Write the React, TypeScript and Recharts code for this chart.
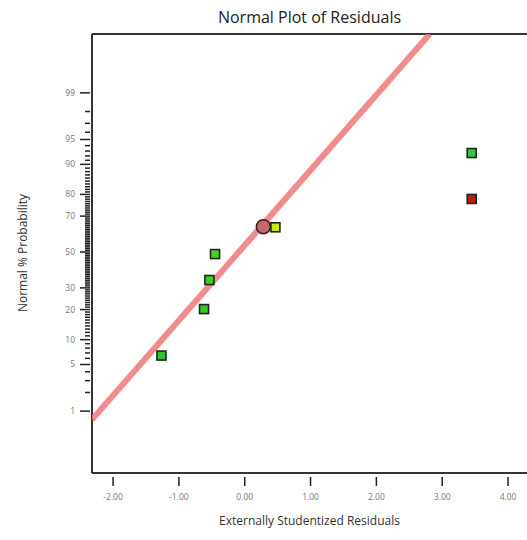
import React from 'react';
import { ScatterChart, Scatter, XAxis, YAxis, ReferenceLine } from 'recharts';

// residuals (x) with their normal probability in % (y)
const residuals = [-1.265, -0.618, -0.537, -0.451, 0.466, 3.448, 3.448];
const probabilities = [6.5, 20.2, 34.1, 48.8, 64.1, 92.6, 78.1];
const pointColors = ['#2fc42f', '#36c831', '#3ccb2e', '#45cf2b', '#c8ea0c', '#2cc74c', '#c21a1a'];

// highlighted run (circle)
const highlightResidual = [0.283];
const highlightProbability = [64.4];

// normal line through the residuals
const fitMean = -0.09;
const fitSd = 0.91;

const xTicks = [-2, -1, 0, 1, 2, 3, 4];
const majorProbs = [1, 5, 10, 20, 30, 50, 70, 80, 90, 95, 99];
const minorProbs = [
  2, 3, 4, 6, 7, 8, 9,
  11, 12, 13, 14, 15, 16, 17, 18, 19,
  21, 22, 23, 24, 25, 26, 27, 28, 29,
  31, 32, 33, 34, 35, 36, 37, 38, 39, 40, 41, 42, 43, 44, 45, 46, 47, 48, 49,
  51, 52, 53, 54, 55, 56, 57, 58, 59, 60, 61, 62, 63, 64, 65, 66, 67, 68, 69,
  71, 72, 73, 74, 75, 76, 77, 78, 79,
  81, 82, 83, 84, 85, 86, 87, 88, 89,
  91, 92, 93, 94, 96, 97, 98,
];

const X_MIN = -2.32;
const X_MAX = 4.288;
const Y_MIN = -3.231;
const Y_MAX = 3.187;

// inverse standard normal cdf (Acklam) - the axis is linear in z
function probit(pct: number): number {
  const p = pct / 100;
  const a = [-39.69683028665376, 220.9460984245205, -275.9285104469687, 138.357751867269, -30.66479806614716, 2.506628277459239];
  const b = [-54.47609879822406, 161.5858368580409, -155.6989798598866, 66.80131188771972, -13.28068155288572];
  const c = [-0.007784894002430293, -0.3223964580411365, -2.400758277161838, -2.549732539343734, 4.374664141464968, 2.938163982698783];
  const d = [0.007784695709041462, 0.3224671290700398, 2.445134137142996, 3.754408661907416];
  const plow = 0.02425;
  if (p < plow) {
    const q = Math.sqrt(-2 * Math.log(p));
    return (((((c[0] * q + c[1]) * q + c[2]) * q + c[3]) * q + c[4]) * q + c[5]) /
      ((((d[0] * q + d[1]) * q + d[2]) * q + d[3]) * q + 1);
  }
  if (p <= 1 - plow) {
    const q = p - 0.5;
    const r = q * q;
    return ((((((a[0] * r + a[1]) * r + a[2]) * r + a[3]) * r + a[4]) * r + a[5]) * q) /
      (((((b[0] * r + b[1]) * r + b[2]) * r + b[3]) * r + b[4]) * r + 1);
  }
  const q = Math.sqrt(-2 * Math.log(1 - p));
  return -(((((c[0] * q + c[1]) * q + c[2]) * q + c[3]) * q + c[4]) * q + c[5]) /
    ((((d[0] * q + d[1]) * q + d[2]) * q + d[3]) * q + 1);
}

const points = residuals.map((r, i) => ({ x: r, z: probit(probabilities[i]), color: pointColors[i] }));
const highlight = highlightResidual.map((r, i) => ({ x: r, z: probit(highlightProbability[i]) }));
const fitLine = [
  { x: X_MIN, z: (X_MIN - fitMean) / fitSd },
  { x: fitMean + fitSd * Y_MAX, z: Y_MAX },
];

const majorLabels = new Map(majorProbs.map((p) => [probit(p).toFixed(6), String(p)]));
const yTicks = [...majorProbs, ...minorProbs].map(probit).sort((a, b) => a - b);

const AXIS = '#333';
const TICK_TEXT = '#777';
const FONT = '"Open Sans", "Noto Sans", sans-serif';

const YTick = (props: any) => {
  const { x, y, payload } = props;
  const label = majorLabels.get(Number(payload.value).toFixed(6));
  const len = label ? 10 : 5;
  return (
    <g>
      <line x1={x - len} x2={x} y1={y} y2={y} stroke="#222" strokeWidth={1.5} />
      {label && (
        <text x={x - 15} y={y} dy="0.35em" textAnchor="end" fontSize={8.5} fill={TICK_TEXT} fontFamily={FONT}>
          {label}
        </text>
      )}
    </g>
  );
};

const XTick = (props: any) => {
  const { x, y, payload } = props;
  return (
    <g>
      <line x1={x} x2={x} y1={y + 2} y2={y + 11} stroke="#222" strokeWidth={1.5} />
      <text x={x} y={y + 22} dy="0.35em" textAnchor="middle" fontSize={8.5} fill={TICK_TEXT} fontFamily={FONT}>
        {Number(payload.value).toFixed(2)}
      </text>
    </g>
  );
};

const SquareDot = (props: any) => {
  const { cx, cy, payload } = props;
  return (
    <rect x={cx - 4.5} y={cy - 4.5} width={9} height={9} fill={payload.color} stroke="#1d2a14" strokeWidth={1.6} />
  );
};

const CircleDot = (props: any) => {
  const { cx, cy } = props;
  return <circle cx={cx} cy={cy} r={7} fill="#c56a6a" stroke="#3a1a1a" strokeWidth={1.5} />;
};

export default function App() {
  return (
    <div style={{ position: 'absolute', left: 0, top: 0, width: 527, height: 540, background: '#fff', fontFamily: FONT }}>
      <div style={{ position: 'absolute', left: 92, width: 435, top: 6, textAlign: 'center', fontSize: 16, color: '#222' }}>
        Normal Plot of Residuals
      </div>
      <div
        style={{
          position: 'absolute', left: 22, top: 253, fontSize: 12, color: '#333', whiteSpace: 'nowrap',
          transform: 'translate(-50%, -50%) rotate(-90deg)',
        }}
      >
        Normal % Probability
      </div>
      <div style={{ position: 'absolute', left: 92, width: 435, top: 512, textAlign: 'center', fontSize: 12, color: '#333' }}>
        Externally Studentized Residuals
      </div>
      <ScatterChart width={527} height={540} margin={{ top: 34, right: 0, bottom: 0, left: 0 }}>
        <XAxis
          type="number"
          dataKey="x"
          domain={[X_MIN, X_MAX]}
          ticks={xTicks}
          allowDataOverflow
          height={67}
          tickSize={0}
          tickLine={false}
          axisLine={{ stroke: AXIS, strokeWidth: 2 }}
          tick={<XTick />}
          interval={0}
        />
        <YAxis
          type="number"
          dataKey="z"
          domain={[Y_MIN, Y_MAX]}
          ticks={yTicks}
          allowDataOverflow
          width={92}
          tickSize={0}
          tickLine={false}
          axisLine={{ stroke: AXIS, strokeWidth: 2 }}
          tick={<YTick />}
          interval={0}
        />
        <ReferenceLine y={Y_MAX} stroke={AXIS} strokeWidth={2} />
        <Scatter
          data={fitLine}
          line={{ stroke: '#f07878', strokeWidth: 6, strokeOpacity: 0.85 }}
          shape={() => null}
          isAnimationActive={false}
        />
        <Scatter data={highlight} shape={<CircleDot />} isAnimationActive={false} />
        <Scatter data={points} shape={<SquareDot />} isAnimationActive={false} />
      </ScatterChart>
    </div>
  );
}
